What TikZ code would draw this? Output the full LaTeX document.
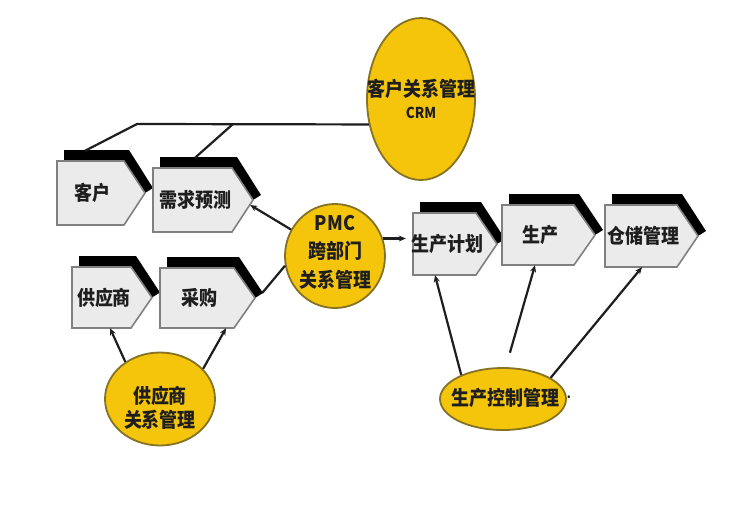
\documentclass[tikz,border=0pt]{standalone}
\usepackage{fontspec}
\newfontfamily\cjk[FakeStretch=0.9]{Noto Sans CJK SC}
\usetikzlibrary{shapes.geometric,arrows.meta,calc}
\definecolor{boxfill}{HTML}{EBEBEB}
\definecolor{boxline}{HTML}{808080}
\definecolor{gold}{HTML}{F5C50C}
\definecolor{goldline}{HTML}{857222}
\definecolor{ink}{HTML}{1E1E1E}
\tikzset{
 band/.style={fill=black},
 boxshape/.style={fill=boxfill, draw=boxline, line width=1.6pt, line join=miter},
 boxtext/.style={inner sep=0pt, font=\cjk\bfseries\fontsize{20}{22}\selectfont, text=ink},
 oval/.style={ellipse, fill=gold, draw=goldline, line width=1.8pt, inner sep=0pt},
 ovaltext/.style={align=center, inner sep=0pt, font=\cjk\bfseries\fontsize{20}{24}\selectfont, text=ink},
 conn/.style={draw=ink, line width=2.2pt},
 arr/.style={conn, -{Stealth[length=7pt,width=6pt]}},
}
% #1 name, #2 left, #3 top, #4 tip x, #5 bottom, #6 text
\newcommand\procbox[6]{%
  \pgfmathsetmacro\pbM{(#3+#5)/2}%
  \pgfmathsetmacro\pbC{#4-21}%
  \pgfmathsetmacro\pbW{\pbC-#2}%
  \pgfmathsetmacro\pbH{#5-#3}%
  \fill[band] (#2+7,#3-11) -- (\pbC+5,#3-11) -- (#4+8,\pbM-5) -- (#4,\pbM) -- (\pbC,#3) -- (#2+7,#3) -- cycle;
  \draw[boxshape] (#2,#3) -- (\pbC,#3) -- (#4,\pbM) -- (\pbC,#5) -- (#2,#5) -- cycle;
  \node[boxtext, minimum width=\pbW pt, minimum height=\pbH pt] (#1) at ({(#2+\pbC)/2},\pbM) {\hspace*{5pt}#6};
}
\begin{document}
\begin{tikzpicture}[x=1pt,y=-1pt]
\useasboundingbox (0,0) rectangle (745,507);
\fill[white] (0,0) rectangle (745,507);

% process boxes
\procbox{kh}{57}{161}{145}{225}{客户}
\procbox{xq}{153}{168}{253}{232}{需求预测}
\procbox{gys}{72}{267}{152}{328}{供应商}
\procbox{cg}{160}{268}{255}{328}{采购}
\procbox{sj}{413}{213}{497}{275}{生产计划}
\procbox{sc}{502}{205}{595}{265}{生产}
\procbox{cc}{605}{205}{698}{267}{仓储管理}

% ovals
\node[oval, minimum width=108pt, minimum height=162pt] (crm) at (421,99) {};
\node[ovaltext, font=\cjk\bfseries\fontsize{20}{22}\selectfont] (crmt) at (421,99) {客户关系管理\\{\fontsize{15}{16}\selectfont CRM}};
\node[oval, minimum width=100pt, minimum height=104pt] (pmc) at (335,256) {};
\node[ovaltext, font=\cjk\bfseries\fontsize{20}{28.5}\selectfont] (pmct) at (335,252) {PMC\\跨部门\\关系管理};
\node[oval, minimum width=110pt, minimum height=93pt] (gsr) at (160,399) {};
\node[ovaltext] (gsrt) at (160,408) {供应商\\关系管理};
\node[oval, minimum width=126pt, minimum height=62pt] (scp) at (503,399) {};
\node[ovaltext] (scpt) at (505,398) {生产控制管理};
\node[inner sep=0pt, font=\cjk\bfseries\fontsize{13}{13}\selectfont, text=ink] (dot) at (569,397) {.};

% CRM links
\coordinate (j1) at (137,124);
\coordinate (j2) at (233,124);
\draw[conn] (crm.206) -- (j1) -- ($(kh.north)+(-5.5,-10)$);
\draw[conn] (j2) -- ($(xq.north)+(2.5,-10)$);

% PMC links
\draw[arr] (pmc) -- ($(xq.east)+(18,5)$);
\draw[conn] ($(cg.east)+(28,-5)$) -- (pmc.191);
\draw[arr] (pmc.20) -- (pmc.20 -| sj.west);

% supplier relation links
\draw[arr] (gsr.133) -- ($(gys.south)+(8.5,0)$);
\draw[arr] (gsr.35) -- ($(cg.south)+(29,0)$);

% production control links
\draw[arr] (scp.150) -- ($(sj.south)+(-9.5,0)$);
\draw[arr, shorten <=15pt] (scp.85) -- ($(sc.south)+(-3,0)$);
\draw[arr] (scp.24) -- ($(cc.south)+(1,0)$);
\end{tikzpicture}
\end{document}
